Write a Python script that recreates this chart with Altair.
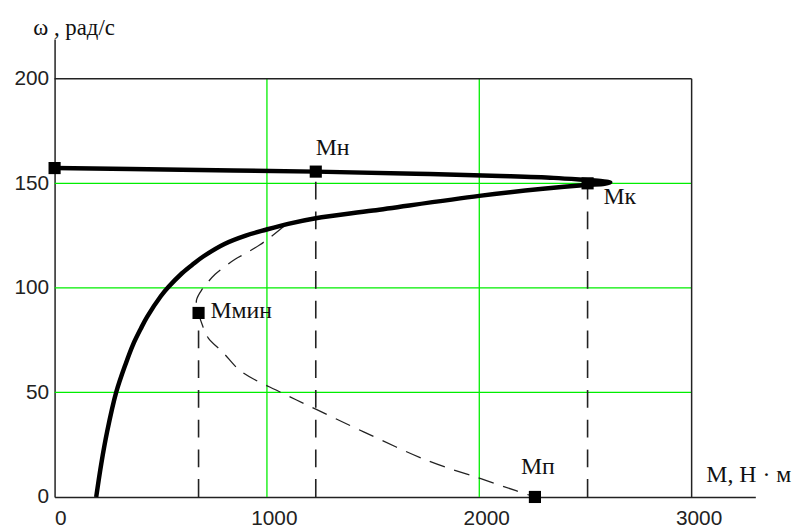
import altair as alt
import pandas as pd

# ---- data ----
x_ticks = [0, 1000, 2000, 3000]
y_ticks = [0, 50, 100, 150, 200]
grid_M = [1000, 2000]
grid_w = [50, 100, 150]

# thick mechanical characteristic (ordered path: upper branch out, lower branch back)
thick_M = [0, 600, 1230, 1700, 2100, 2350, 2500, 2580, 2617, 2590, 2500, 2300, 2000, 1500, 1230,
           1100, 995, 900, 800, 700, 654, 600, 537, 500, 435, 406, 370, 336, 290, 247, 220, 196]
thick_w = [157.3, 156.5, 155.6, 154.6, 153.5, 152.6, 151.6, 151.0, 150.4, 149.8, 149.2, 147.4, 144.0,
           137.0, 133.3, 130.6, 127.8, 125.0, 121.0, 115.0, 111.5, 107.0, 100.5, 96.0, 86.0, 80.5,
           73.0, 64.0, 50.0, 31.0, 16.0, 0.0]

# thin dashed characteristic (ordered path)
dash_M = [1080, 1028, 967, 900, 850, 803, 756, 720, 696, 668, 678, 700, 724, 794, 879, 1066, 1230,
          1458, 1766, 2000, 2173, 2262]
dash_w = [129.5, 125.2, 120.6, 116.5, 113.7, 110.3, 106.5, 102.5, 99.5, 94.0, 88.0, 81.0, 76.0, 69.0,
          60.0, 50.0, 42.0, 31.0, 17.0, 9.0, 3.0, 0.0]

# characteristic points
point_names = ["ω0", "Мн", "Мк", "Ммин", "Мп"]
point_M = [0, 1230, 2510, 678, 2262]
point_w = [157.3, 155.6, 150.0, 88.0, 0.0]

# dashed drop lines
vline_M = [678, 1230, 2510]
vline_top = [88.0, 155.6, 150.0]

x_title = "М, Н · м"
y_title = "ω , рад/с"

# ---- tables ----
thick_df = pd.DataFrame({"M": thick_M, "w": thick_w, "i": range(len(thick_M))})
dash_df = pd.DataFrame({"M": dash_M, "w": dash_w, "i": range(len(dash_M))})
pts_df = pd.DataFrame({"name": point_names, "M": point_M, "w": point_w})
vline_df = pd.DataFrame({"M": vline_M, "w": [0] * len(vline_M), "w2": vline_top})
vgrid_df = pd.DataFrame({"M": grid_M, "w": [0] * len(grid_M), "w2": [200] * len(grid_M)})
hgrid_df = pd.DataFrame({"w": grid_w, "M": [0] * len(grid_w), "M2": [3000] * len(grid_w)})
frame_v = pd.DataFrame({"M": [3000], "w": [0], "w2": [200]})
frame_h = pd.DataFrame({"w": [200], "M": [0], "M2": [3000]})

xs = alt.Scale(domain=[0, 3300], nice=False, zero=False)
ys = alt.Scale(domain=[0, 219], nice=False, zero=False)

xaxis = alt.Axis(
    values=x_ticks, format="d", grid=False, ticks=False, tickSize=0,
    domainColor="#222", domainWidth=1.5,
    labelFont="Liberation Sans", labelFontSize=21, labelColor="#222", labelPadding=11,
    labelOffset={"condition": {"test": "datum.value == 0", "value": 0}, "value": 7},
    title=x_title, titleFont="Liberation Serif", titleFontSize=24, titleFontWeight="normal",
    titleColor="#111", titleX=657, titleY=-23, titleAlign="left", titleBaseline="middle", titleAngle=0,
)
yaxis = alt.Axis(
    values=y_ticks, format="d", grid=False, ticks=False, tickSize=0,
    domainColor="#222", domainWidth=1.5, labelFlush=False,
    labelFont="Liberation Sans", labelFontSize=21, labelColor="#222", labelPadding=6,
    title=y_title, titleFont="Liberation Serif", titleFontSize=23, titleFontWeight="normal",
    titleColor="#111", titleX=-22, titleY=-12, titleAlign="left", titleBaseline="middle", titleAngle=0,
)

X = alt.X("M:Q", scale=xs, axis=xaxis)
Y = alt.Y("w:Q", scale=ys, axis=yaxis)

green = "#00ee00"

vgrid = alt.Chart(vgrid_df).mark_rule(color=green, strokeWidth=1.3).encode(x=X, y=Y, y2="w2:Q")
hgrid = alt.Chart(hgrid_df).mark_rule(color=green, strokeWidth=1.3).encode(y=Y, x=X, x2="M2:Q")
fv = alt.Chart(frame_v).mark_rule(color="#222", strokeWidth=1.5).encode(x=X, y=Y, y2="w2:Q")
fh = alt.Chart(frame_h).mark_rule(color="#222", strokeWidth=1.5).encode(y=Y, x=X, x2="M2:Q")

vlines = alt.Chart(vline_df).mark_rule(color="#222", strokeWidth=1.6, strokeDash=[18, 12]).encode(
    x=X, y=Y, y2="w2:Q")

dash_line = alt.Chart(dash_df).mark_line(
    color="#222", strokeWidth=1.3, strokeDash=[16, 10], interpolate="catmull-rom"
).encode(x=X, y=Y, order="i:Q")

thick = alt.Chart(thick_df).mark_line(
    color="black", strokeWidth=4.5, strokeJoin="round", interpolate="catmull-rom"
).encode(x=X, y=Y, order="i:Q")

pts = alt.Chart(pts_df).mark_point(shape="square", filled=True, size=150, color="black", opacity=1).encode(
    x=X, y=Y)

def label(name, dx, dy, align):
    return alt.Chart(pts_df).transform_filter(alt.datum.name == name).mark_text(
        font="Liberation Serif", fontSize=24, color="#111", align=align, baseline="middle", dx=dx, dy=dy
    ).encode(x=X, y=Y, text="name:N")

labels = [
    label("Мн", 17, -24, "center"),
    label("Мк", 16, 14, "left"),
    label("Ммин", 12, -2, "left"),
    label("Мп", 3, -30, "center"),
]

chart = alt.layer(vgrid, hgrid, fv, fh, vlines, dash_line, thick, pts, *labels).properties(
    width=707, height=462,
    padding={"left": 47, "top": 29, "right": 38, "bottom": 30},
    autosize=alt.AutoSizeParams(type="none"),
    background="white",
).configure_view(stroke=None)

chart.save("out.html", embed_options={"renderer": "svg", "actions": False})
